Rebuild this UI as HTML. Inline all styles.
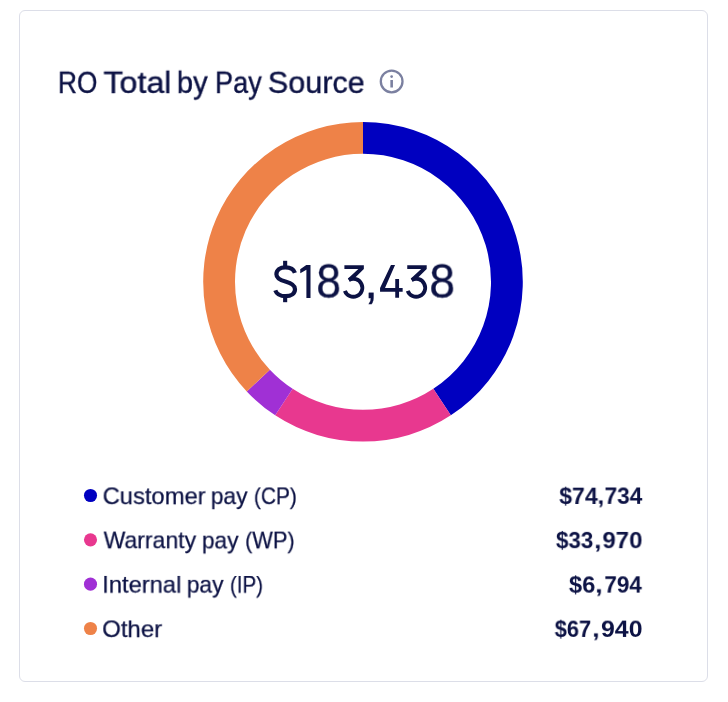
<!DOCTYPE html>
<html>
<head>
<meta charset="utf-8">
<style>
html,body{margin:0;padding:0;background:#fff;}
body{width:728px;height:702px;position:relative;overflow:hidden;font-family:"Liberation Sans",sans-serif;color:#0c1244;}
.card{position:absolute;left:19px;top:10px;width:687px;height:670px;border:1px solid #dcdee8;border-radius:6px;background:#fff;}
.t{will-change:transform;position:absolute;white-space:nowrap;line-height:1;transform-origin:0 0;}
svg{position:absolute;left:0;top:0;}
</style>
</head>
<body>
<div class="card"></div>
<svg width="728" height="702" viewBox="0 0 728 702">
<g fill="none" stroke="#7b80a0" stroke-width="2.3">
<circle cx="391.65" cy="81.45" r="10.85"/>
<line x1="391.65" y1="80" x2="391.65" y2="87.5" stroke-width="2.6"/>
<circle cx="391.65" cy="76.6" r="1.35" fill="#7b80a0" stroke="none"/>
</g>
<path fill="#0000C0" d="M363.00 122.00A159.8 159.8 0 0 1 450.81 415.31L433.34 388.74A128.0 128.0 0 0 0 363.00 153.80Z"/>
<path fill="#E8388F" d="M450.81 415.31A159.8 159.8 0 0 1 275.19 415.31L292.66 388.74A128.0 128.0 0 0 0 433.34 388.74Z"/>
<path fill="#A030D5" d="M275.19 415.31A159.8 159.8 0 0 1 246.77 391.46L269.90 369.64A128.0 128.0 0 0 0 292.66 388.74Z"/>
<path fill="#EE8248" d="M246.77 391.46A159.8 159.8 0 0 1 363.00 122.00L363.00 153.80A128.0 128.0 0 0 0 269.90 369.64Z"/>
<g fill="#0c1244">
<path d="M390.95 265.1H395.05L385.0 288.05H402.65V291.65H380.05V288.05ZM395.25 279.05H399.05V297.85H395.25Z"/>
<g><path d="M407.25 265.25H426.7V268.9L416.6 278.9L412.6 281.4L410.9 278.5L421.2 268.9H407.25Z"/>
<path d="M411.68 280.0A9 9 0 1 1 407.72 290.85" fill="none" stroke="#0c1244" stroke-width="3.9"/></g>
<g transform="translate(-62.85,0)"><path d="M407.25 265.25H426.7V268.9L416.6 278.9L412.6 281.4L410.9 278.5L421.2 268.9H407.25Z"/>
<path d="M411.68 280.0A9 9 0 1 1 407.72 290.85" fill="none" stroke="#0c1244" stroke-width="3.9"/></g>
<path d="M310.5 264.9L306.3 264.9L300.2 269.2L300.3 273.3L306.4 269.7L306.4 297.9L310.5 297.9Z"/>
<rect x="283.1" y="260.8" width="4.1" height="5.6"/><rect x="283.1" y="296.4" width="4.1" height="5.8"/>
<path d="M294.9 272.9C293.8 269.4 290.2 267.3 285.4 267.3C280 267.3 276.4 270.2 276.4 274.3C276.4 278.2 279.6 280 285.4 281.6C291.4 283.2 295 285 295 289.2C295 293.4 291.2 296.2 285.6 296.2C280.4 296.2 276.6 294 275.3 290.4" fill="none" stroke="#0c1244" stroke-width="4.2"/>
</g>
<circle cx="90.5" cy="495.5" r="6.55" fill="#0000C0"/>
<circle cx="90.5" cy="539.85" r="6.55" fill="#E8388F"/>
<circle cx="90.5" cy="584.15" r="6.55" fill="#A030D5"/>
<circle cx="90.5" cy="628.5" r="6.55" fill="#EE8248"/>
</svg>

<div class="t" id="t1" style="left:0;top:0;font-size:31.0px;-webkit-text-stroke:0.4px #0c1244;transform:translate(57.94px,67.86px) scale(0.8463,0.966)">RO</div>
<div class="t" id="t2" style="left:0;top:0;font-size:31.0px;-webkit-text-stroke:0.4px #0c1244;transform:translate(103.49px,67.82px) scale(1.0376,0.966)">Total</div>
<div class="t" id="t3" style="left:0;top:0;font-size:31.0px;-webkit-text-stroke:0.4px #0c1244;transform:translate(176.84px,67.77px) scale(0.9417,0.966)">by</div>
<div class="t" id="t4" style="left:0;top:0;font-size:31.0px;-webkit-text-stroke:0.4px #0c1244;transform:translate(215.01px,67.81px) scale(0.8735,0.966)">Pay</div>
<div class="t" id="t5" style="left:0;top:0;font-size:31.0px;-webkit-text-stroke:0.4px #0c1244;transform:translate(267.80px,67.84px) scale(0.9863,0.966)">Source</div>
<div class="t" id="c3" style="left:0;top:0;font-size:48.2px;-webkit-text-stroke:0.25px #0c1244;transform:translate(316.31px,256.68px) scale(0.9197,1.000)">8</div>
<div class="t" id="c5" style="left:0;top:0;font-size:48.2px;-webkit-text-stroke:0.25px #0c1244;transform:translate(364.25px,256.98px) scale(1.0284,1.000)">,</div>
<div class="t" id="c8" style="left:0;top:0;font-size:48.2px;-webkit-text-stroke:0.25px #0c1244;transform:translate(429.23px,256.67px) scale(0.9627,1.000)">8</div>
<div class="t" id="a1" style="left:0;top:0;font-size:24.0px;-webkit-text-stroke:0.25px #0c1244;transform:translate(102.62px,484.49px) scale(0.9899,0.980)">Customer</div>
<div class="t" id="a2" style="left:0;top:0;font-size:24.0px;-webkit-text-stroke:0.25px #0c1244;transform:translate(210.83px,484.48px) scale(0.9468,0.980)">pay</div>
<div class="t" id="a3" style="left:0;top:0;font-size:24.0px;-webkit-text-stroke:0.25px #0c1244;transform:translate(253.89px,484.49px) scale(0.8723,0.980)">(CP)</div>
<div class="t" id="b1" style="left:0;top:0;font-size:24.0px;-webkit-text-stroke:0.25px #0c1244;transform:translate(103.62px,528.58px) scale(0.9584,0.980)">Warranty</div>
<div class="t" id="b2" style="left:0;top:0;font-size:24.0px;-webkit-text-stroke:0.25px #0c1244;transform:translate(201.91px,528.82px) scale(0.9452,0.980)">pay</div>
<div class="t" id="b3" style="left:0;top:0;font-size:24.0px;-webkit-text-stroke:0.25px #0c1244;transform:translate(245.04px,528.63px) scale(0.9066,0.980)">(WP)</div>
<div class="t" id="d1" style="left:0;top:0;font-size:24.0px;-webkit-text-stroke:0.25px #0c1244;transform:translate(102.15px,572.98px) scale(0.9896,0.980)">Internal</div>
<div class="t" id="d2" style="left:0;top:0;font-size:24.0px;-webkit-text-stroke:0.25px #0c1244;transform:translate(186.82px,572.97px) scale(0.9468,0.980)">pay</div>
<div class="t" id="d3" style="left:0;top:0;font-size:24.0px;-webkit-text-stroke:0.25px #0c1244;transform:translate(229.95px,573.00px) scale(0.8520,0.980)">(IP)</div>
<div class="t" id="e1" style="left:0;top:0;font-size:24.0px;-webkit-text-stroke:0.25px #0c1244;transform:translate(102.13px,617.47px) scale(1.0008,0.980)">Other</div>
<div class="t" id="v1a" style="left:0;top:0;font-size:23.0px;font-weight:bold;transform:translate(559.25px,485.72px) scale(1.0022,0.959)">$74</div>
<div class="t" id="v1b" style="left:0;top:0;font-size:23.0px;font-weight:bold;transform:translate(597.45px,485.50px) scale(1.0458,0.959)">,</div>
<div class="t" id="v1c" style="left:0;top:0;font-size:23.0px;font-weight:bold;transform:translate(604.56px,485.58px) scale(0.9863,0.959)">734</div>
<div class="t" id="v2a" style="left:0;top:0;font-size:23.0px;font-weight:bold;transform:translate(555.94px,529.93px) scale(0.9759,0.959)">$33</div>
<div class="t" id="v2b" style="left:0;top:0;font-size:23.0px;font-weight:bold;transform:translate(594.18px,529.99px) scale(1.1412,0.959)">,</div>
<div class="t" id="v2c" style="left:0;top:0;font-size:23.0px;font-weight:bold;transform:translate(602.43px,529.96px) scale(1.0420,0.959)">970</div>
<div class="t" id="v3a" style="left:0;top:0;font-size:23.0px;font-weight:bold;transform:translate(568.88px,574.41px) scale(1.0288,0.959)">$6</div>
<div class="t" id="v3b" style="left:0;top:0;font-size:23.0px;font-weight:bold;transform:translate(595.13px,574.30px) scale(1.1726,0.959)">,</div>
<div class="t" id="v3c" style="left:0;top:0;font-size:23.0px;font-weight:bold;transform:translate(604.38px,574.39px) scale(0.9771,0.959)">794</div>
<div class="t" id="v4a" style="left:0;top:0;font-size:23.0px;font-weight:bold;transform:translate(554.67px,618.68px) scale(0.9519,0.959)">$67</div>
<div class="t" id="v4b" style="left:0;top:0;font-size:23.0px;font-weight:bold;transform:translate(592.13px,618.43px) scale(1.1726,0.959)">,</div>
<div class="t" id="v4c" style="left:0;top:0;font-size:23.0px;font-weight:bold;transform:translate(600.97px,618.67px) scale(1.0813,0.959)">940</div>
</body>
</html>
